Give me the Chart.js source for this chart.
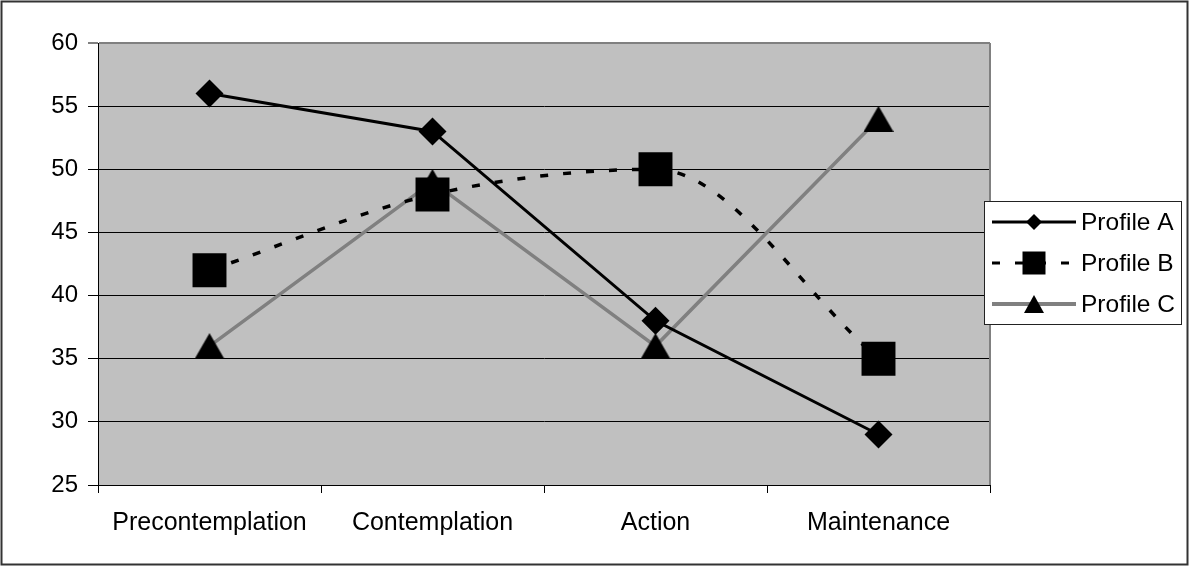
<!DOCTYPE html>
<html>
<head>
<meta charset="utf-8">
<script src="https://cdn.jsdelivr.net/npm/chart.js@4.4.1/dist/chart.umd.min.js"></script>
<style>
  html, body { margin: 0; padding: 0; background: #fff; }
  #wrap { width: 1189px; height: 566px; position: relative; }
</style>
</head>
<body>
<div id="wrap"><canvas id="chart" width="1189" height="566"></canvas></div>
<script>
    // ─── Data ───
    const stages = ['Precontemplation', 'Contemplation', 'Action', 'Maintenance'];
    const profileA = [56, 53, 38, 29];
    const profileB = [42, 48, 50, 35];
    const profileC = [36, 49, 36, 54];
    const seriesNames = ['Profile A', 'Profile B', 'Profile C'];
    const yTicks = [25, 30, 35, 40, 45, 50, 55, 60];

    const FAMILY = '"Liberation Sans", Arial, sans-serif';
    const FONT = { family: FAMILY, size: 24 };
    const XFONT = { family: FAMILY, size: 25 };

    // triangle centred in its box, like the Excel marker
    function triangleImage(w, h) {
        const c = document.createElement('canvas');
        c.width = w; c.height = h;
        const g = c.getContext('2d');
        g.fillStyle = '#000';
        g.beginPath();
        g.moveTo(w / 2, 0);
        g.lineTo(w, h);
        g.lineTo(0, h);
        g.closePath();
        g.fill();
        return c;
    }
    const triPlot = triangleImage(30, 26);

    function drawMarker(ctx, style, x, y, r) {
        ctx.fillStyle = '#000';
        ctx.beginPath();
        if (style === 'rectRot') {
            ctx.moveTo(x - r, y); ctx.lineTo(x, y - r);
            ctx.lineTo(x + r, y); ctx.lineTo(x, y + r);
        } else if (style === 'rect') {
            ctx.rect(x - r, y - r, 2 * r, 2 * r);
        } else {
            ctx.moveTo(x, y - r * 0.9); ctx.lineTo(x + r, y + r * 0.9); ctx.lineTo(x - r, y + r * 0.9);
        }
        ctx.closePath();
        ctx.fill();
    }

    // ─── Background, borders, legend ───
    const frame = {
        id: 'frame',
        beforeDraw(chart) {
            const { ctx, chartArea: a } = chart;
            ctx.save();
            ctx.fillStyle = '#fff';
            ctx.fillRect(0, 0, chart.width, chart.height);
            ctx.fillStyle = '#c0c0c0';
            ctx.fillRect(a.left, a.top, a.right - a.left, a.bottom - a.top);
            ctx.restore();
        },
        afterDraw(chart) {
            const { ctx, chartArea: a } = chart;
            ctx.save();
            // plot right border
            ctx.strokeStyle = '#808080';
            ctx.lineWidth = 2;
            ctx.beginPath();
            ctx.moveTo(a.right, a.top);
            ctx.lineTo(a.right, a.bottom);
            ctx.stroke();
            // outer border
            ctx.strokeStyle = '#333';
            ctx.lineWidth = 2;
            ctx.strokeRect(1.5, 1.5, chart.width - 3, chart.height - 3);

            // legend
            const bx = 984, by = 201, bw = 197, bh = 123;
            ctx.fillStyle = '#fff';
            ctx.fillRect(bx, by, bw, bh);
            ctx.strokeStyle = '#222';
            ctx.lineWidth = 1;
            ctx.strokeRect(bx + 0.5, by + 0.5, bw, bh);
            const rows = [222, 263, 304];
            const markers = [['rectRot', 8], ['rect', 11.5], ['tri', 10]];
            chart.data.datasets.forEach((ds, i) => {
                const y = rows[i];
                ctx.strokeStyle = ds.borderColor;
                ctx.lineWidth = i === 2 ? 4 : 3;
                ctx.setLineDash(ds.borderDash || []);
                ctx.beginPath();
                ctx.moveTo(992, y);
                ctx.lineTo(1076, y);
                ctx.stroke();
                ctx.setLineDash([]);
                drawMarker(ctx, markers[i][0], 1034, y, markers[i][1]);
                ctx.fillStyle = '#000';
                ctx.font = `24.5px ${FAMILY}`;
                ctx.textBaseline = 'middle';
                ctx.textAlign = 'left';
                ctx.fillText(ds.label, 1081, y + 1);
            });
            ctx.restore();
        },
    };

    new Chart(document.getElementById('chart'), {
        type: 'line',
        data: {
            labels: stages,
            datasets: [
                {
                    label: seriesNames[0],
                    data: profileA,
                    borderColor: '#000',
                    borderWidth: 3,
                    tension: 0,
                    pointStyle: 'rectRot',
                    pointRadius: 14,
                    pointBackgroundColor: '#000',
                    pointBorderColor: '#000',
                    pointBorderWidth: 0,
                },
                {
                    label: seriesNames[1],
                    data: profileB,
                    borderColor: '#000',
                    borderWidth: 3.5,
                    borderDash: [8, 15],
                    cubicInterpolationMode: 'monotone',
                    pointStyle: 'rect',
                    pointRadius: 24,
                    pointBackgroundColor: '#000',
                    pointBorderColor: '#000',
                    pointBorderWidth: 0,
                },
                {
                    label: seriesNames[2],
                    data: profileC,
                    borderColor: '#808080',
                    borderWidth: 3.5,
                    tension: 0,
                    pointStyle: triPlot,
                    pointRadius: 15,
                },
            ],
        },
        options: {
            responsive: false,
            animation: false,
            events: [],
            layout: { padding: { top: 43, right: 199, left: 0, bottom: 0 } },
            plugins: { legend: { display: false }, tooltip: { enabled: false } },
            scales: {
                x: {
                    offset: true,
                    grid: { offset: true, drawOnChartArea: false, color: '#000', tickLength: 8 },
                    border: { color: '#000', width: 1 },
                    ticks: { color: '#000', font: XFONT, padding: 15, maxRotation: 0, autoSkip: false },
                    afterFit(scale) { scale.height = 81; },
                },
                y: {
                    min: 25,
                    max: 60,
                    afterBuildTicks(scale) { scale.ticks = yTicks.map(v => ({ value: v })); },
                    grid: {
                        color: ctx => (ctx.tick && ctx.tick.value === 60 ? '#808080' : '#000'),
                        lineWidth: ctx => (ctx.tick && ctx.tick.value === 60 ? 2 : 1),
                        tickLength: 10,
                    },
                    border: { color: '#000', width: 1 },
                    ticks: { color: '#000', font: FONT, padding: 10 },
                    afterFit(scale) { scale.width = 98; },
                },
            },
        },
        plugins: [frame],
    });
</script>
</body>
</html>
